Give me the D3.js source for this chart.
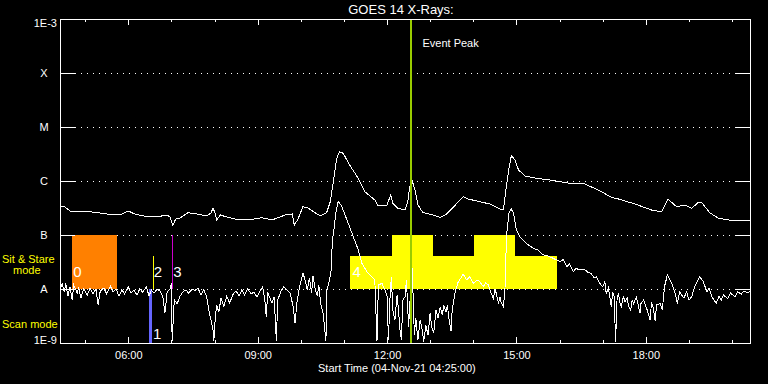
<!DOCTYPE html>
<html>
  <head>
    <meta charset="utf-8">
    <title>GOES 14 X-Rays</title>
    <script src="https://cdn.jsdelivr.net/npm/d3@7"></script>
    <style>
      body { margin: 0; background: #000; }
      svg { display: block; background: #000; font-family: "Liberation Sans", Arial, sans-serif; }
      .axis path, .axis line { stroke: #fff; shape-rendering: crispEdges; }
      .axis text { fill: #fff; font-size: 11px; font-family: "Liberation Sans", Arial, sans-serif; }
      .grid { stroke: #fff; stroke-dasharray: 1 5; shape-rendering: crispEdges; }
      .flux { fill: none; stroke: #fff; stroke-width: 1; shape-rendering: crispEdges; }
      .label { fill: #fff; font-size: 11px; }
      .mode { fill: #ffff00; font-size: 11px; }
      .marker { fill: #fff; font-size: 15px; }
    </style>
  </head>
  <body>
    <svg id="chart" width="768" height="384"></svg>
    <script>
      // time range of the plot
      const startTime = "04:25";
      const endTime = "20:25";

      // y axis ticks (flux in W/m^2)
      const yTickValues = [1e-9, 1e-8, 1e-7, 1e-6, 1e-5, 1e-4, 1e-3];
      const yTickLabels = ["1E-9", "A", "B", "C", "M", "X", "1E-3"];
      const gridValues = [1e-8, 1e-7, 1e-6, 1e-5, 1e-4];

      // long channel (upper curve)
      const longTimes = ["04:25","04:32","04:39","04:53","05:07","05:21","05:39","05:51","06:00","06:09","06:20","06:44","06:54","06:58","07:02","07:06","07:12","07:23","07:36","07:49","07:55","07:58","08:01","08:03","08:08","08:17","08:28","08:42","08:52","09:06","09:20","09:31","09:38","09:48","09:51","09:56","10:03","10:10","10:20","10:27","10:36","10:41","10:46","10:50","10:54","10:59","11:08","11:20","11:29","11:43","11:47","12:00","12:05","12:08","12:15","12:25","12:29","12:31","12:33","12:35","12:39","12:43","12:50","13:04","13:14","13:23","13:32","13:46","13:53","14:09","14:23","14:37","14:42","14:46","14:50","14:53","14:58","15:03","15:12","15:28","15:47","16:14","16:35","16:54","17:12","17:22","17:45","18:08","18:22","18:27","18:31","18:43","18:54","19:04","19:13","19:18","19:29","19:41","19:55","20:13","20:25"];
      const longFlux = [3.34e-7,3.3e-7,2.78e-7,2.72e-7,2.7e-7,2.55e-7,2.35e-7,2.45e-7,2.78e-7,2.45e-7,2.25e-7,2.22e-7,2.35e-7,2.15e-7,1.49e-7,1.98e-7,2.07e-7,2.59e-7,2.45e-7,2.25e-7,2.55e-7,3.16e-7,2.45e-7,1.9e-7,2.35e-7,2.15e-7,1.98e-7,1.93e-7,1.95e-7,2.09e-7,1.9e-7,2.15e-7,2.35e-7,2.45e-7,1.53e-7,1.95e-7,3.34e-7,3.16e-7,2.59e-7,2.25e-7,2.59e-7,4.14e-7,1.12e-6,2.63e-6,3.49e-6,3.26e-6,1.98e-6,1.12e-6,6.34e-7,4.45e-7,3.59e-7,3.59e-7,5.51e-7,3.86e-7,3.12e-7,2.9e-7,4.14e-7,7.02e-7,9.06e-7,1.01e-6,6.81e-7,3.59e-7,2.6e-7,2.35e-7,2.13e-7,2.45e-7,3.26e-7,5.15e-7,4.64e-7,4.14e-7,3.75e-7,3.03e-7,2.99e-7,7.84e-7,1.84e-6,2.94e-6,2.45e-6,1.6e-6,1.24e-6,1.12e-6,1.04e-6,9.06e-7,8.8e-7,6.81e-7,4.99e-7,4.64e-7,3.75e-7,2.9e-7,2.7e-7,3.59e-7,4.58e-7,3.34e-7,3.59e-7,3.12e-7,4.02e-7,3.96e-7,2.59e-7,2.04e-7,1.9e-7,1.82e-7,1.84e-7];

      // short channel (lower curve)
      const shortTimes = ["04:25","04:28","04:31","04:33","04:36","04:39","04:42","04:44","04:49","04:51","04:54","04:58","05:03","05:07","05:11","05:15","05:18","05:21","05:26","05:30","05:35","05:39","05:43","05:47","05:51","05:55","06:00","06:04","06:08","06:12","06:16","06:20","06:25","06:29","06:32","06:36","06:40","06:44","06:48","06:51","06:54","06:58","07:00","07:01","07:04","07:08","07:12","07:16","07:20","07:24","07:29","07:33","07:37","07:41","07:45","07:49","07:52","07:55","07:58","07:59","08:01","08:03","08:06","08:09","08:13","08:17","08:21","08:26","08:30","08:34","08:38","08:42","08:46","08:51","08:55","08:59","09:03","09:07","09:10","09:12","09:14","09:17","09:20","09:23","09:26","09:28","09:32","09:36","09:41","09:45","09:49","09:52","09:55","09:59","10:03","10:06","10:09","10:12","10:15","10:17","10:20","10:23","10:25","10:28","10:31","10:35","10:36","10:39","10:42","10:44","10:46","10:49","10:52","10:56","10:59","11:06","11:13","11:20","11:25","11:32","11:39","11:43","11:46","11:48","11:53","11:57","12:00","12:02","12:04","12:06","12:08","12:11","12:14","12:16","12:18","12:20","12:22","12:25","12:27","12:30","12:32","12:34","12:36","12:38","12:40","12:43","12:46","12:49","12:51","12:54","12:57","13:00","13:02","13:05","13:08","13:11","13:14","13:17","13:19","13:22","13:24","13:26","13:29","13:30","13:32","13:35","13:39","13:41","13:46","13:51","13:55","14:00","14:05","14:09","14:14","14:17","14:21","14:25","14:28","14:30","14:32","14:35","14:37","14:39","14:42","14:44","14:45","14:46","14:50","14:53","14:56","15:00","15:05","15:14","15:23","15:30","15:37","15:44","15:51","16:01","16:05","16:10","16:14","16:19","16:23","16:28","16:35","16:39","16:44","16:48","16:51","16:56","17:00","17:03","17:05","17:08","17:10","17:12","17:14","17:16","17:18","17:20","17:22","17:24","17:26","17:29","17:31","17:34","17:36","17:39","17:41","17:43","17:47","17:52","17:53","17:57","18:02","18:06","18:08","18:10","18:13","18:15","18:20","18:23","18:26","18:30","18:36","18:41","18:44","18:47","18:50","18:53","18:57","19:00","19:04","19:08","19:15","19:20","19:25","19:28","19:32","19:35","19:38","19:42","19:45","19:48","19:54","19:58","20:04","20:08","20:13","20:17","20:22","20:25"];
      const shortFlux = [9.6e-9,1.24e-8,8.8e-9,1.29e-8,7.4e-9,1.09e-8,6.26e-9,1.19e-8,8.4e-9,1.09e-8,6.8e-9,1.0e-8,7.74e-9,1.04e-8,8.1e-9,1.0e-8,5.05e-9,9.2e-9,1.04e-8,8.1e-9,1.13e-8,8.8e-9,1.0e-8,7.4e-9,9.6e-9,8.1e-9,1.09e-8,8.4e-9,9.6e-9,7.74e-9,1.0e-8,8.8e-9,1.09e-8,7.4e-9,9.6e-9,8.4e-9,1.0e-8,9.2e-9,7.4e-9,3.59e-9,8.8e-9,1.0e-8,1.29e-8,1.09e-9,6.26e-9,5.3e-9,7.4e-9,8.8e-9,9.6e-9,8.4e-9,1.0e-8,9.2e-9,1.04e-8,7.74e-9,9.6e-9,7.4e-9,4.08e-9,2.67e-9,1.74e-9,1.09e-9,2.9e-9,5.05e-9,3.7e-9,6.8e-9,4.8e-9,7.4e-9,5.5e-9,8.1e-9,9.2e-9,7.4e-9,9.6e-9,7.74e-9,1.0e-8,8.1e-9,8.8e-9,7.1e-9,9.2e-9,1.09e-8,6.26e-9,3.07e-9,8.8e-9,6.8e-9,5.5e-9,7.1e-9,1.09e-9,6.26e-9,8.8e-9,1.09e-8,9.6e-9,8.4e-9,5.05e-9,2.35e-9,6.26e-9,1.19e-8,1.98e-8,1.47e-8,9.6e-9,1.6e-8,8.4e-9,1.74e-8,1.0e-8,7.4e-9,1.19e-8,5.05e-9,3.59e-9,1.09e-9,9.6e-9,1.29e-8,2.09e-8,8.1e-8,1.24e-7,2.67e-7,4.14e-7,3.59e-7,2.9e-7,1.65e-7,9.3e-8,5.3e-8,3.0e-8,2.09e-8,1.69e-8,1.47e-8,1.09e-9,1.19e-8,1.27e-8,9.6e-9,7.4e-9,1.14e-9,6.26e-9,1.69e-8,4.08e-9,2.67e-9,7.74e-9,4.08e-9,1.74e-9,1.14e-9,6.26e-9,7.2e-9,1.47e-8,2.0e-9,6.26e-9,4.3e-8,9.6e-9,1.4e-9,2.9e-9,1.14e-9,2.67e-9,1.74e-9,1.04e-9,2.15e-9,1.4e-9,3.59e-9,1.98e-9,1.53e-9,4.08e-9,2.9e-9,4.7e-9,3.3e-9,5.05e-9,3.7e-9,5.05e-9,2.9e-9,1.64e-9,3.16e-9,5.4e-9,8.9e-9,1.35e-8,1.47e-8,1.87e-8,1.47e-8,1.69e-8,1.27e-8,1.47e-8,1.37e-8,1.1e-8,1.29e-8,1.19e-8,8.3e-9,6.7e-9,9.6e-9,8.4e-9,5.4e-9,7.2e-9,5.5e-9,4.7e-9,9.6e-9,1.95e-8,9.3e-8,2.7e-7,3.0e-7,2.52e-7,1.24e-7,9.3e-8,7.0e-8,5.7e-8,5.3e-8,4.3e-8,4.1e-8,3.7e-8,3.22e-8,3.5e-8,2.6e-8,2.9e-8,2.09e-8,2.42e-8,2.25e-8,2.3e-8,2.06e-8,1.95e-8,1.6e-8,1.69e-8,1.27e-8,1.1e-8,1.35e-8,8.3e-9,1.04e-8,7.2e-9,4.7e-9,8.8e-9,7.2e-9,1.06e-9,6.26e-9,8.3e-9,5.5e-9,4.7e-9,7.4e-9,5.8e-9,6.8e-9,4.8e-9,4.08e-9,6.26e-9,5.4e-9,7.1e-9,3.55e-9,5.3e-9,6.26e-9,4.08e-9,2.67e-9,5.7e-9,4.7e-9,2.6e-9,5.05e-9,5.4e-9,4.08e-9,1.1e-8,1.82e-8,1.27e-8,8.3e-9,5.4e-9,8.8e-9,7.74e-9,6.8e-9,8.9e-9,6.26e-9,7.2e-9,1.1e-8,1.69e-8,1.37e-8,8.9e-9,1.04e-8,7.2e-9,6.26e-9,5.4e-9,7.4e-9,6.26e-9,7.74e-9,6.7e-9,8.4e-9,7.2e-9,8.8e-9,8.1e-9,9.2e-9,8.5e-9,9.2e-9];

      // numbered markers 0-3
      const markerLabels = ["0", "1", "2", "3"];
      const markerStart = ["04:42", "06:29", "06:34", "07:01"];
      const markerEnd = ["05:44", "06:33", "06:34", "07:01"];
      const markerLow = [1e-8, 1e-9, 1e-8, 1e-8];
      const markerHigh = [1e-7, 1e-8, 4.1e-8, 1e-7];

      // marker 4: stepped block
      const scanStart = ["11:09", "12:07", "13:03", "14:01", "14:58"];
      const scanEnd = ["12:07", "13:03", "14:01", "14:58", "15:56"];
      const scanTop = [4.1e-8, 1e-7, 4.1e-8, 1e-7, 4.1e-8];
      const scanBase = 1e-8;

      const eventPeak = "12:34";

      const parseTime = d3.utcParse("%H:%M");
      const chart = d3.select("#chart");

      const x = d3.scaleUtc()
        .domain([parseTime(startTime), parseTime(endTime)])
        .range([60, 750]);
      const y = d3.scaleLog()
        .domain([1e-9, 1e-3])
        .range([343, 19]);
      const markerColour = d3.scaleOrdinal()
        .domain(markerLabels)
        .range(["#ff8000", "#6666ff", "#ffff00", "#cc00cc"]);

      // gridlines
      chart.append("g")
        .selectAll("line")
          .data(gridValues)
        .enter().append("line")
          .classed("grid", true)
          .attr("x1", 75)
          .attr("x2", 736)
          .attr("y1", function(d) { return Math.round(y(d)) + 0.5; })
          .attr("y2", function(d) { return Math.round(y(d)) + 0.5; });

      // marker blocks
      const markers = markerLabels.map(function(l, i) {
        return { label: l, t0: parseTime(markerStart[i]), t1: parseTime(markerEnd[i]), lo: markerLow[i], hi: markerHigh[i] };
      });
      chart.append("g")
        .selectAll("rect")
          .data(markers)
        .enter().append("rect")
          .attr("x", function(d) { return Math.round(x(d.t0)); })
          .attr("y", function(d) { return y(d.hi); })
          .attr("width", function(d) { return Math.max(1, Math.round(x(d.t1) - x(d.t0))); })
          .attr("height", function(d) { return y(d.lo) - y(d.hi); })
          .attr("fill", function(d) { return markerColour(d.label); })
          .attr("shape-rendering", "crispEdges");

      const scans = scanStart.map(function(s, i) {
        return { t0: parseTime(s), t1: parseTime(scanEnd[i]), hi: scanTop[i] };
      });
      chart.append("g")
        .selectAll("rect")
          .data(scans)
        .enter().append("rect")
          .attr("x", function(d) { return x(d.t0); })
          .attr("y", function(d) { return y(d.hi); })
          .attr("width", function(d) { return x(d.t1) - x(d.t0) + 0.5; })
          .attr("height", function(d) { return y(scanBase) - y(d.hi); })
          .attr("fill", "#ffff00")
          .attr("shape-rendering", "crispEdges");

      // flux curves
      const line = d3.line()
        .x(function(d) { return x(d.t); })
        .y(function(d) { return y(d.f); });
      const longData = longTimes.map(function(t, i) { return { t: parseTime(t), f: longFlux[i] }; });
      const shortData = shortTimes.map(function(t, i) { return { t: parseTime(t), f: shortFlux[i] }; });
      chart.append("path").classed("flux", true).attr("d", line(longData));
      chart.append("path").classed("flux", true).attr("d", line(shortData));

      // marker labels
      chart.append("g")
        .selectAll("text")
          .data(markers)
        .enter().append("text")
          .classed("marker", true)
          .attr("x", function(d) { return d.label === "0" ? x(d.t0) + 1 : x(d.t1) + 1; })
          .attr("y", function(d) { return d.label === "1" ? y(1e-9) - 4 : y(d.lo) - 12; })
          .text(function(d) { return d.label; });
      chart.append("text")
        .classed("marker", true)
        .attr("x", x(scans[0].t0) + 2)
        .attr("y", y(scanBase) - 12)
        .text("4");

      // event peak
      chart.append("rect")
        .attr("x", Math.round(x(parseTime(eventPeak))) - 1)
        .attr("y", y(1e-3))
        .attr("width", 2)
        .attr("height", y(1e-9) - y(1e-3))
        .attr("fill", "#99cc00")
        .attr("shape-rendering", "crispEdges");
      chart.append("text")
        .classed("label", true)
        .attr("x", x(parseTime(eventPeak)) + 11)
        .attr("y", 47)
        .text("Event Peak");

      // axes
      const hourFmt = d3.utcFormat("%H:%M");
      chart.append("g").classed("axis", true)
        .attr("transform", "translate(0,343)")
        .call(d3.axisBottom(x).ticks(d3.utcHour.every(1)).tickFormat("").tickSize(-3).tickSizeOuter(0));
      chart.append("g").classed("axis", true)
        .attr("transform", "translate(0,343)")
        .call(d3.axisBottom(x).ticks(d3.utcHour.every(3)).tickFormat(hourFmt).tickSize(-6).tickSizeOuter(0).tickPadding(8));
      chart.append("g").classed("axis", true)
        .attr("transform", "translate(0,19)")
        .call(d3.axisTop(x).ticks(d3.utcHour.every(1)).tickFormat("").tickSize(-3).tickSizeOuter(0));
      chart.append("g").classed("axis", true)
        .attr("transform", "translate(0,19)")
        .call(d3.axisTop(x).ticks(d3.utcHour.every(3)).tickFormat("").tickSize(-6).tickSizeOuter(0));

      const yAxis = chart.append("g").classed("axis", true)
        .attr("transform", "translate(60,0)")
        .call(d3.axisLeft(y).tickValues(yTickValues)
          .tickFormat(function(d, i) { return yTickLabels[i]; })
          .tickSize(-15).tickSizeOuter(0).tickPadding(3));
      yAxis.selectAll("text")
        .filter(function(d, i) { return yTickLabels[i].length === 1; })
          .attr("x", -16)
          .attr("text-anchor", "middle");
      yAxis.selectAll("text")
        .filter(function(d) { return d === 1e-3; })
          .attr("dy", "0.72em");
      yAxis.selectAll("text")
        .filter(function(d) { return d === 1e-9; })
          .attr("dy", "0");
      chart.append("g").classed("axis", true)
        .attr("transform", "translate(750,0)")
        .call(d3.axisRight(y).tickValues(yTickValues).tickFormat("").tickSize(-14).tickSizeOuter(0));

      // titles
      chart.append("text")
        .classed("label", true)
        .attr("x", 401)
        .attr("y", 14)
        .attr("text-anchor", "middle")
        .style("font-size", "13px")
        .text("GOES 14 X-Rays:");
      chart.append("text")
        .classed("label", true)
        .attr("x", 318)
        .attr("y", 372)
        .text("Start Time (04-Nov-21 04:25:00)");
      chart.append("text").classed("mode", true).attr("x", 2).attr("y", 263).text("Sit & Stare");
      chart.append("text").classed("mode", true).attr("x", 13).attr("y", 274).text("mode");
      chart.append("text").classed("mode", true).attr("x", 2).attr("y", 328).text("Scan mode");
    </script>
  </body>
</html>
